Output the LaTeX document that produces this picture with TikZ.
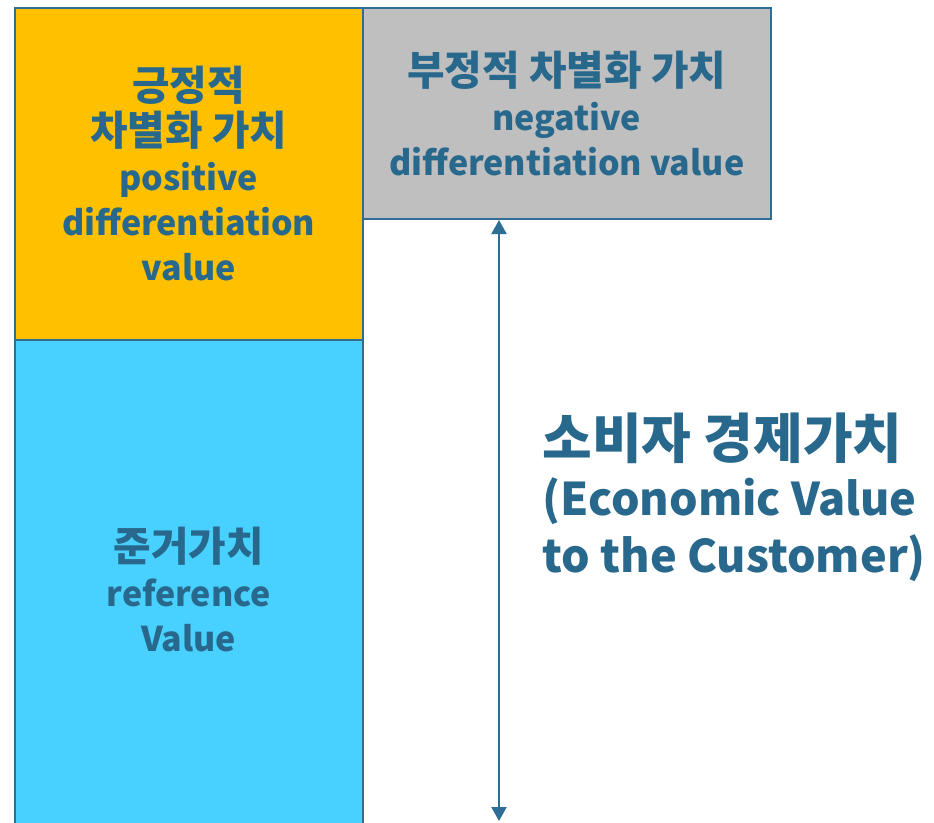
\documentclass[tikz,border=0pt]{standalone}
\usepackage{fontspec}
\usetikzlibrary{positioning, arrows.meta}
\newfontfamily\krfont{Noto Sans CJK KR}
\newfontfamily\hgfont{Noto Sans CJK KR}[Scale=1.2]
\definecolor{PosOrange}{RGB}{255, 192, 0}
\definecolor{NegGray}{RGB}{191, 191, 191}
\definecolor{RefBlue}{RGB}{72, 208, 255}
\definecolor{EdgeBlue}{RGB}{46, 110, 150}
\definecolor{TextBlue}{RGB}{40, 104, 140}
\newcommand{\hg}[1]{{\hgfont\bfseries #1}}

\begin{document}
\begin{tikzpicture}[x=1pt, y=-1pt,
    valbox/.style={draw=EdgeBlue, line width=1.5pt, inner sep=0pt, align=center,
      text=TextBlue, font=\krfont\bfseries\fontsize{34}{45}\selectfont}]
    \useasboundingbox (0,0) rectangle (934,822);
    \clip (0,0) rectangle (934,822);

    % value blocks
    \node[valbox, fill=PosOrange, anchor=north west, minimum width=348pt, minimum height=332pt]
      (pos) at (14,7) {\hg{긍정적}\\\hg{차별화 가치}\\positive\\differentiation\\value};
    \node[valbox, fill=RefBlue, anchor=north west, minimum width=348pt, minimum height=500pt]
      (ref) at (14,339) {\hg{준거가치}\\reference\\Value};
    \node[valbox, fill=NegGray, anchor=north west, minimum width=408pt, minimum height=211pt]
      (neg) at (362,7) {\hg{부정적 차별화 가치}\\negative\\differentiation value};

    % economic value span
    \coordinate (etop) at (499,220);
    \coordinate (ebot) at (499,821);
    \draw[EdgeBlue, line width=2.2pt, {Triangle[width=15pt,length=14pt]}-{Triangle[width=15pt,length=14pt]}]
      (etop) -- (ebot);
    \node[anchor=west, align=left, text=TextBlue, font=\krfont\bfseries\fontsize{45}{57}\selectfont]
      (evc) at (539,497) {\hg{소비자 경제가치}\\(Economic Value\\to the Customer)};
  \end{tikzpicture}
\end{document}
